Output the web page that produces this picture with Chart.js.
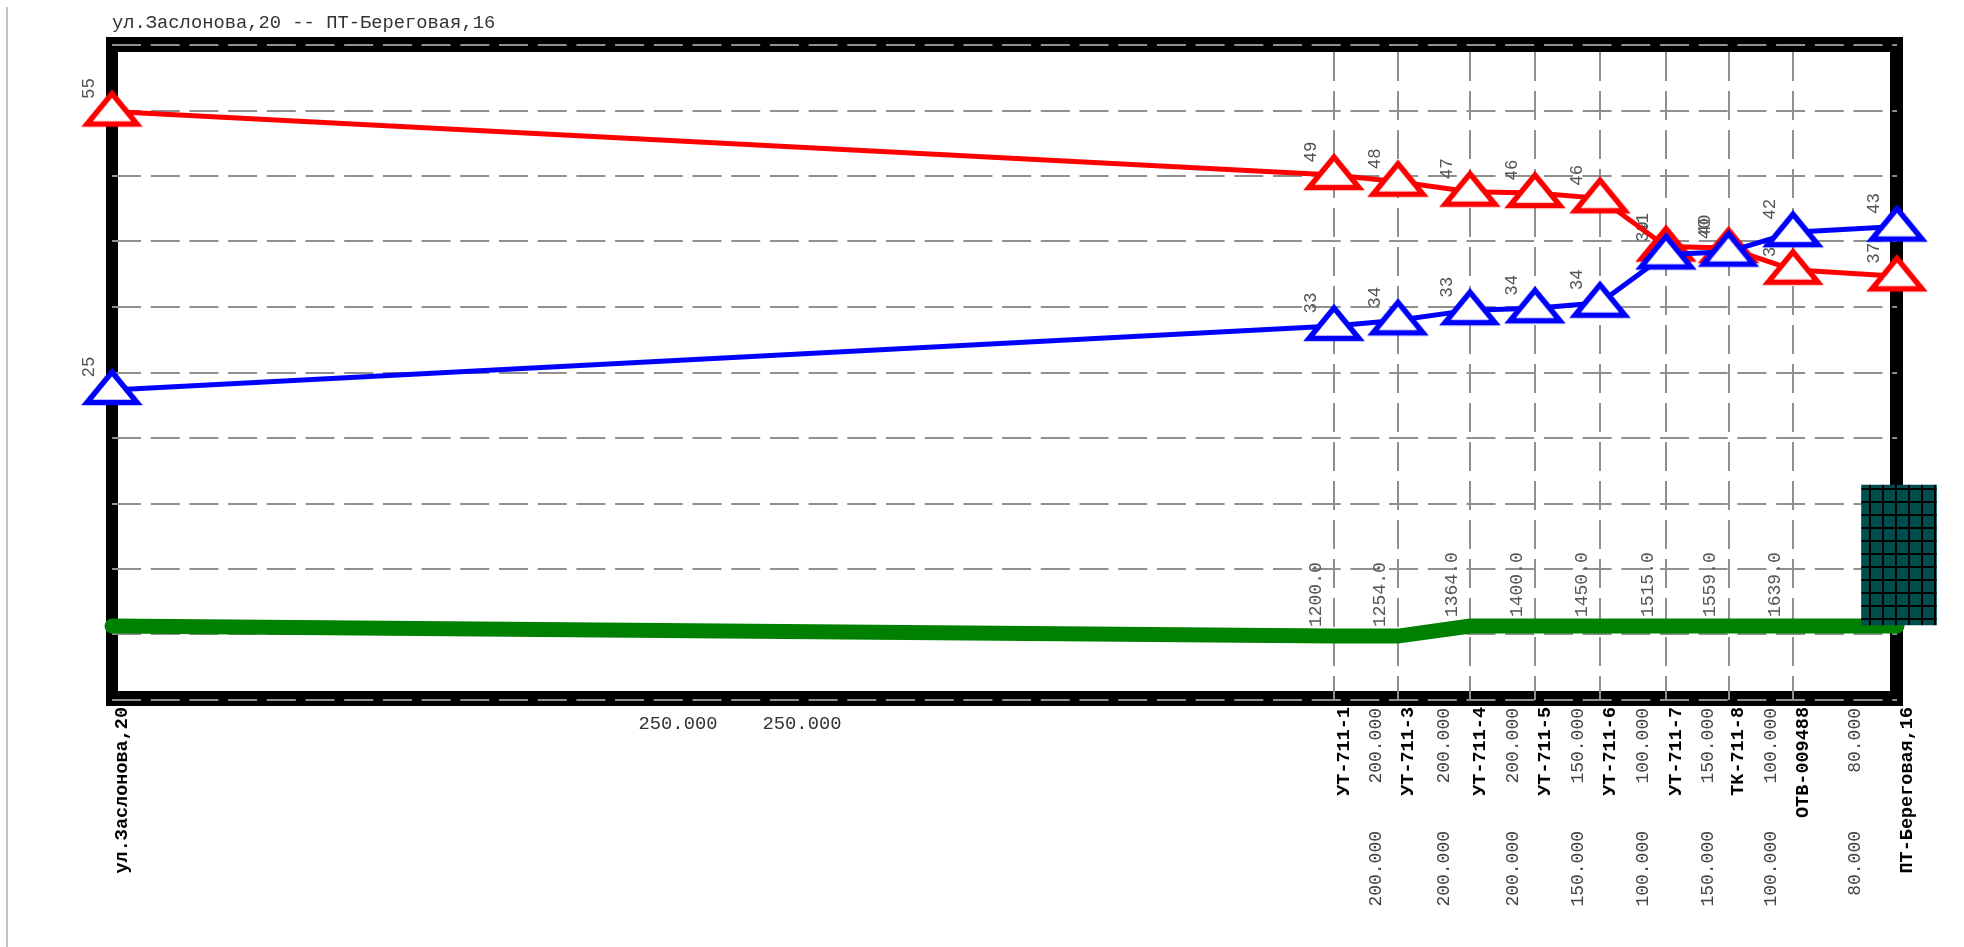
<!DOCTYPE html>
<html>
<head>
<meta charset="utf-8">
<script src="https://cdn.jsdelivr.net/npm/chart.js@4"></script>
<style>
    body { margin: 0; background: #fff; }
    #edge { position: absolute; left: 6px; top: 7px; bottom: 0; width: 2px; background: #c4c4c4; }
    #myChart { position: absolute; left: 0; top: 0; }
</style>
</head>
<body>
<div id="edge"></div>
<canvas id="myChart" width="1964" height="947"></canvas>
<script>
    var titleText = 'ул.Заслонова,20 -- ПТ-Береговая,16';
    var stations = ['ул.Заслонова,20', 'УТ-711-1', 'УТ-711-3', 'УТ-711-4', 'УТ-711-5', 'УТ-711-6', 'УТ-711-7', 'ТК-711-8', 'ОТВ-009488', 'ПТ-Береговая,16'];
    var stationPos = [0, 1222, 1286, 1358, 1423, 1488, 1554, 1616.5, 1681, 1785];
    var redValues = [55, 48.16, 47.44, 46.36, 46.22, 45.65, 40.45, 40.29, 37.95, 37.24];
    var blueValues = [25, 31.9, 32.5, 33.6, 33.8, 34.4, 39.6, 39.9, 42, 42.6];
    var greenValues = [-0.44, -1.52, -1.52, -0.44, -0.44, -0.44, -0.44, -0.44, -0.44, -0.44];
    var redLabels = ['55', '49', '48', '47', '46', '46', '41', '40', '38', '37'];
    var blueLabels = ['25', '33', '34', '33', '34', '34', '39', '40', '42', '43'];
    var elevLabels = ['', '1200.0', '1254.0', '1364.0', '1400.0', '1450.0', '1515.0', '1559.0', '1639.0', '1749.0'];
    var pipeLengths = ['200.000', '200.000', '200.000', '150.000', '100.000', '150.000', '100.000', '80.000'];
    var longPipeLabels = ['250.000', '250.000'];
    var longPipePos = [566, 690];
    var yGridTicks = [62.17, 55.11, 48.05, 41, 33.94, 26.88, 19.82, 12.76, 5.71, -1.35, -8.41];
    var wellRange = [-0.33, 14.75];

    var monoFont = '"Liberation Mono", monospace';

    // triangle marker, not equilateral so the built in one does not fit
    function makeTriangle(color) {
        var c = document.createElement('canvas');
        c.width = 64;
        c.height = 64;
        var g = c.getContext('2d');
        g.beginPath();
        g.moveTo(32, 14);
        g.lineTo(57, 44.5);
        g.lineTo(7, 44.5);
        g.closePath();
        g.fillStyle = '#fff';
        g.fill();
        g.lineWidth = 5.5;
        g.strokeStyle = color;
        g.stroke();
        return c;
    }

    // dark teal tile with a black mesh, lines fall on the reference positions
    function makeMesh(ctx) {
        var c = document.createElement('canvas');
        c.width = 13;
        c.height = 13;
        var g = c.getContext('2d');
        g.fillStyle = '#004d4d';
        g.fillRect(0, 0, 13, 13);
        g.fillStyle = '#000';
        g.fillRect(10, 0, 2, 13);
        g.fillRect(0, 7, 13, 2);
        return ctx.createPattern(c, 'repeat');
    }

    function xy(values) {
        return values.map(function (v, i) { return { x: stationPos[i], y: v }; });
    }

    function upText(g, text, x, y, align) {
        g.save();
        g.translate(x, y);
        g.rotate(-Math.PI / 2);
        g.textAlign = align;
        g.textBaseline = 'middle';
        g.fillText(text, 0, 0);
        g.restore();
    }

    var framePlugin = {
        id: 'frame',
        beforeDraw: function (chart) {
            var g = chart.ctx;
            g.save();
            g.fillStyle = '#000';
            g.fillRect(106, 37, 1797, 15);
            g.fillRect(106, 691, 1797, 15);
            g.fillRect(106, 37, 12, 669);
            g.fillRect(1890, 37, 13, 669);
            g.restore();
        }
    };

    var textPlugin = {
        id: 'texts',
        beforeDatasetsDraw: function (chart) {
            var g = chart.ctx;
            var x = chart.scales.x;
            var red = chart.getDatasetMeta(0).data;
            var blue = chart.getDatasetMeta(1).data;
            var green = chart.getDatasetMeta(2).data;
            g.save();

            g.fillStyle = '#333';
            g.font = '18.8px ' + monoFont;
            g.textAlign = 'left';
            g.textBaseline = 'middle';
            g.fillText(titleText, 112, 23);

            // values over the triangles
            g.fillStyle = '#555';
            g.font = '17.5px ' + monoFont;
            red.forEach(function (p, i) { upText(g, redLabels[i], p.x - 23, p.y - 23, 'center'); });
            blue.forEach(function (p, i) { upText(g, blueLabels[i], p.x - 23, p.y - 23, 'center'); });

            // elevations over the ground line
            g.font = '18px ' + monoFont;
            green.forEach(function (p, i) { upText(g, elevLabels[i], p.x - 18, p.y - 9, 'left'); });

            // station names under the frame
            g.fillStyle = '#000';
            g.font = 'bold 18.5px ' + monoFont;
            stations.forEach(function (s, i) { upText(g, s, x.getPixelForValue(stationPos[i]) + 10, 707, 'right'); });

            // pipe lengths, two rows
            g.fillStyle = '#444';
            g.font = '18px ' + monoFont;
            pipeLengths.forEach(function (s, i) {
                var mid = x.getPixelForValue((stationPos[i + 1] + stationPos[i + 2]) / 2) + 10.5;
                upText(g, s, mid, 708, 'right');
                upText(g, s, mid, 831, 'right');
            });
            g.textAlign = 'center';
            g.fillStyle = '#333';
            g.font = '18.8px ' + monoFont;
            longPipeLabels.forEach(function (s, i) { g.fillText(s, x.getPixelForValue(longPipePos[i]), 724); });
            g.restore();
        }
    };

    var ctx = document.getElementById('myChart').getContext('2d');
    var chart = new Chart(ctx, {
        type: 'line',
        data: {
            datasets: [{
                data: xy(redValues),
                borderColor: '#ff0000',
                borderWidth: 5,
                pointStyle: makeTriangle('#ff0000'),
                tension: 0,
                clip: false,
                order: 2
            }, {
                data: xy(blueValues),
                borderColor: '#0000ff',
                borderWidth: 5,
                pointStyle: makeTriangle('#0000ff'),
                tension: 0,
                clip: false,
                order: 1
            }, {
                data: xy(greenValues),
                borderColor: '#008000',
                borderWidth: 15,
                borderCapStyle: 'round',
                pointRadius: 0,
                tension: 0,
                clip: false,
                order: 3
            }, {
                type: 'bar',
                data: [{ x: stationPos[stationPos.length - 1] + 2, y: wellRange }],
                backgroundColor: makeMesh(ctx),
                barThickness: 75,
                clip: false,
                order: 0
            }]
        },
        plugins: [framePlugin, textPlugin],
        options: {
            responsive: false,
            animation: false,
            layout: { padding: { left: 112, top: 45, right: 67, bottom: 247 } },
            plugins: { legend: { display: false }, tooltip: { enabled: false } },
            scales: {
                x: {
                    type: 'linear',
                    min: 0,
                    max: 1785,
                    offset: false,
                    afterBuildTicks: function (axis) {
                        axis.ticks = stationPos.map(function (v) { return { value: v }; });
                    },
                    ticks: { display: false },
                    border: { display: false, dash: [29, 10], dashOffset: 31.9 },
                    grid: {
                        offset: false,
                        drawTicks: false,
                        lineWidth: 2,
                        color: function (c) {
                            return (c.index === 0 || c.index === stationPos.length - 1) ? 'rgba(0,0,0,0)' : '#909090';
                        }
                    }
                },
                y: {
                    type: 'linear',
                    min: yGridTicks[yGridTicks.length - 1],
                    max: yGridTicks[0],
                    afterBuildTicks: function (axis) {
                        axis.ticks = yGridTicks.map(function (v) { return { value: v }; });
                    },
                    ticks: { display: false },
                    border: { display: false, dash: [29, 9.7] },
                    grid: { drawTicks: false, lineWidth: 2, color: '#909090' }
                }
            }
        }
    });
</script>
</body>
</html>
